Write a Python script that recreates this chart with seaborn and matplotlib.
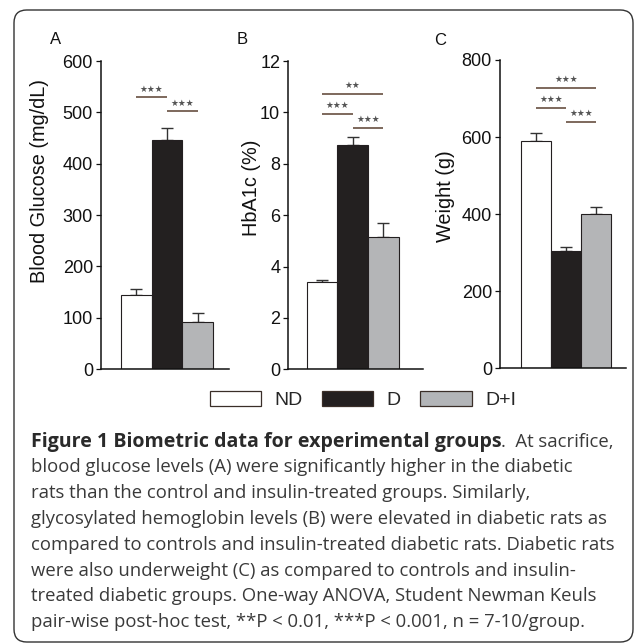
import numpy as np
import pandas as pd
import matplotlib
matplotlib.use("Agg")
import matplotlib.pyplot as plt
import seaborn as sns
from matplotlib.patches import Patch, FancyBboxPatch

# ---------------- data ----------------
groups = ["ND", "D", "D+I"]

glucose_mean = [145, 447, 92]
glucose_err = [10, 23, 18]

hba1c_mean = [3.41, 8.73, 5.14]
hba1c_err = [0.05, 0.33, 0.57]

weight_mean = [591, 305, 400]
weight_err = [20, 10, 18]

glucose_sig_pairs = [(0, 1), (1, 2)]
glucose_sig_height = [529, 502]
glucose_sig_label = ["***", "***"]

hba1c_sig_pairs = [(0, 2), (0, 1), (1, 2)]
hba1c_sig_height = [10.73, 9.95, 9.39]
hba1c_sig_label = ["**", "***", "***"]

weight_sig_pairs = [(0, 2), (0, 1), (1, 2)]
weight_sig_height = [728, 676, 639]
weight_sig_label = ["***", "***", "***"]

ylabels = ["Blood Glucose (mg/dL)", "HbA1c (%)", "Weight (g)"]
panel_letters = ["A", "B", "C"]
yticks = [np.arange(0, 601, 100), np.arange(0, 13, 2), np.arange(0, 801, 200)]

caption_bold = "Figure 1 Biometric data for experimental groups"
caption_first_tail = ".  At sacrifice,"
caption_lines = [
    "blood glucose levels (A) were significantly higher in the diabetic",
    "rats than the control and insulin-treated groups. Similarly,",
    "glycosylated hemoglobin levels (B) were elevated in diabetic rats as",
    "compared to controls and insulin-treated diabetic rats. Diabetic rats",
    "were also underweight (C) as compared to controls and insulin-",
    "treated diabetic groups. One-way ANOVA, Student Newman Keuls",
    "pair-wise post-hoc test, **P < 0.01, ***P < 0.001, n = 7-10/group.",
]

# ---------------- style ----------------
sns.set_theme(style="ticks")
plt.rcParams["font.family"] = ["Liberation Sans", "DejaVu Sans"]

W, H = 636, 643
fig = plt.figure(figsize=(W / 100, H / 100), dpi=100)
fig.patch.set_facecolor("white")

bar_colors = {"ND": "#ffffff", "D": "#231f20", "D+I": "#b3b5b8"}
edge = "#231f20"
sig_color = "#5a4030"
star_color = "#555555"


def px_rect(x0, ytop, x1, ybot):
    return [x0 / W, 1 - ybot / H, (x1 - x0) / W, (ybot - ytop) / H]


axes_px = [
    (101, 61, 229, 369),
    (288.3, 61, 423, 369.3),
    (500, 60, 626, 368.3),
]
xlims = [(-1.138, 3.009), (-1.10, 3.292), (-1.198, 2.988)]
label_coords = [(-0.41, 0.61), (-0.199, 0.589), (-0.357, 0.559)]
letter_pos = [(56, 43.5), (242.5, 43.5), (440.5, 45)]

panels = [
    (glucose_mean, glucose_err, glucose_sig_pairs, glucose_sig_height, glucose_sig_label),
    (hba1c_mean, hba1c_err, hba1c_sig_pairs, hba1c_sig_height, hba1c_sig_label),
    (weight_mean, weight_err, weight_sig_pairs, weight_sig_height, weight_sig_label),
]

for i, (means, errs, pairs, heights, labs) in enumerate(panels):
    ax = fig.add_axes(px_rect(*axes_px[i]))
    df = pd.DataFrame({"group": groups, "value": means})
    sns.barplot(data=df, x="group", y="value", hue="group", order=groups,
                hue_order=groups, palette=bar_colors, width=1.0,
                edgecolor=edge, linewidth=0.8, legend=False, ax=ax, zorder=2)
    ax.errorbar(np.arange(len(groups)), means,
                yerr=[np.zeros(len(errs)), errs], fmt="none",
                ecolor="#333333", elinewidth=1.0, capsize=4, capthick=1.0,
                zorder=1)
    for (a, b), h, lab in zip(pairs, heights, labs):
        ax.plot([a, b], [h, h], color=sig_color, lw=1.1, solid_capstyle="butt",
                zorder=3)
        ax.annotate("★" * len(lab), xy=((a + b) / 2, h), xytext=(0, 6),
                    textcoords="offset points", ha="center", va="center",
                    fontsize=6.3, color=star_color, family="DejaVu Sans")
    ax.set_xlim(*xlims[i])
    ax.set_ylim(0, yticks[i][-1])
    ax.set_yticks(yticks[i])
    ax.set_xticks([])
    ax.set_xlabel("")
    ax.set_ylabel(ylabels[i], fontsize=14.3, color="#111111")
    ax.yaxis.set_label_coords(*label_coords[i])
    ax.tick_params(axis="y", length=3.6, width=0.9, pad=2.2, labelsize=13,
                   colors="#111111", direction="out")
    for s in ["top", "right"]:
        ax.spines[s].set_visible(False)
    for s in ["left", "bottom"]:
        ax.spines[s].set_linewidth(1.1)
        ax.spines[s].set_color("#111111")
    ax.set_facecolor("none")
    fig.text(letter_pos[i][0] / W, 1 - letter_pos[i][1] / H, panel_letters[i],
             ha="center", va="baseline", fontsize=12, color="#111111")

# legend
handles = [Patch(facecolor=bar_colors[g], edgecolor="#3a2e28", linewidth=0.9,
                 label=g) for g in groups]
fig.legend(handles=handles, loc="center", bbox_to_anchor=(363 / W, 1 - 400 / H),
           ncol=3, frameon=False, fontsize=14, handlelength=2.63,
           handleheight=0.82, handletextpad=0.69, columnspacing=1.0,
           borderaxespad=0, borderpad=0)

# border
border = FancyBboxPatch((14 / W, 1 - 642 / H), (633 - 14) / W, (642 - 10) / H,
                        boxstyle="round,pad=0,rounding_size=0.02",
                        transform=fig.transFigure, facecolor="none",
                        edgecolor="#333333", linewidth=1.0, zorder=0)
fig.patches.append(border)

# caption
cap_font = ["Open Sans", "DejaVu Sans"]
cap_size = 13.3
cap_color = "#3a3a3a"
x0 = 30.7
base0 = 446.7
step = 25.76
renderer = fig.canvas.get_renderer()
tb = fig.text(x0 / W, 1 - base0 / H, caption_bold, fontsize=14.1,
              family=cap_font, weight="bold", color="#2a2a2a", va="baseline")
bb = tb.get_window_extent(renderer=renderer)
fig.text(bb.x1 / W, 1 - base0 / H, caption_first_tail, fontsize=cap_size,
         family=cap_font, color=cap_color, va="baseline")
for k, line in enumerate(caption_lines, start=1):
    fig.text(x0 / W, 1 - (base0 + k * step) / H, line, fontsize=cap_size,
             family=cap_font, color=cap_color, va="baseline")

fig.savefig("out.png", dpi=100)
